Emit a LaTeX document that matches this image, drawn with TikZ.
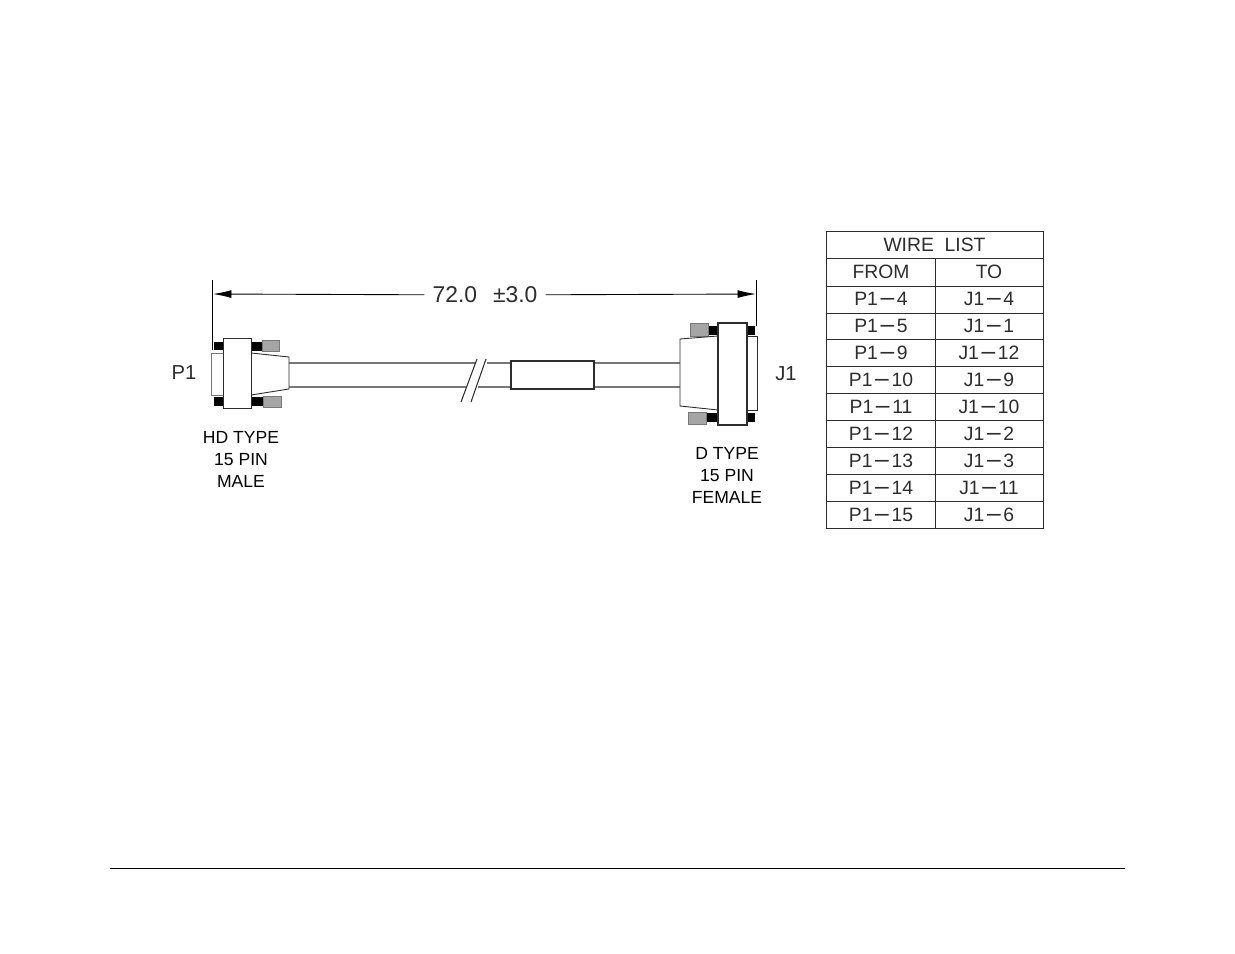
\documentclass[tikz,border=0pt]{standalone}
\usepackage{fontspec}
\setmainfont{Liberation Sans}
\usetikzlibrary{arrows.meta,positioning}
\definecolor{cableGray}{RGB}{120,120,120}
\definecolor{thumbGray}{RGB}{165,165,165}
\definecolor{inkDark}{RGB}{45,45,45}
\newcommand{\wiredash}{\kern1.5pt{\fontsize{14}{14}\selectfont –}\kern1.5pt}
\tikzset{
  partline/.style={draw=inkDark,line width=0.5pt,fill=white},
  cableline/.style={draw=cableGray,line width=0.7pt},
  screwblack/.style={fill=black,draw=none},
  screwthumb/.style={fill=thumbGray,draw=cableGray,line width=0.4pt},
  dimline/.style={draw=black,line width=0.5pt},
  dimarrow/.style={dimline,-{Latex[length=10.5pt,width=4.5pt]}},
  calllabel/.style={font=\fontsize{10}{12.5}\selectfont,align=center,text=black},
  partlabel/.style={font=\fontsize{11.5}{14}\selectfont,text=inkDark},
  tablecell/.style={font=\fontsize{11}{13}\selectfont,text=inkDark,inner sep=0pt},
  tablegrid/.style={draw=inkDark,line width=0.55pt}
}
\begin{document}
\begin{tikzpicture}[x=0.02cm,y=-0.02cm]
  \useasboundingbox (0,0) rectangle (1235,954);

  % Dimension line
  \node[font=\fontsize{13}{14}\selectfont,text=inkDark,fill=white,inner xsep=4.5pt,inner ysep=1pt] (dimtext) at (485,295) {72.0\hspace{0.7em}±3.0};
  \coordinate (dimleft) at (213,294);
  \coordinate (dimright) at (756,294);
  \draw[dimarrow] (dimtext) -- (dimleft);
  \draw[dimarrow] (dimtext) -- (dimright);
  \coordinate (extleftup) at (212,280);
  \coordinate (extleftdown) at (212,350);
  \coordinate (extrightup) at (756,280);
  \coordinate (extrightdown) at (756,326);
  \draw[dimline] (extleftup) -- (extleftdown);
  \draw[dimline] (extrightup) -- (extrightdown);

  % Cable with break and sleeve
  \draw[cableline] (289,363) -- (475,363) (487,363) -- (680,363);
  \draw[cableline] (289,387) -- (466,387) (478,387) -- (680,387);
  \draw[draw=inkDark,line width=0.6pt] (477,359) -- (461,402);
  \draw[draw=inkDark,line width=0.6pt] (486,359) -- (471,402);
  \draw[partline,line width=0.8pt] (511,361) rectangle (594,389);
  \draw[draw=inkDark,line width=0.4pt] (547,361) -- (547,359.5);

  % P1 connector
  \draw[partline,draw=cableGray] (211,353) rectangle (223,395);
  \fill[screwblack] (214,342) rectangle (223,350);
  \fill[screwblack] (214,397) rectangle (223,406);
  \fill[screwblack] (251,342) rectangle (262,351);
  \fill[screwblack] (251,397) rectangle (263,406);
  \draw[screwthumb] (262,340) rectangle (279,351);
  \draw[screwthumb] (263,396) rectangle (281,407);
  \draw[partline] (251,353) -- (289,357) -- (289,389) -- (251,395) -- cycle;
  \draw[partline] (223,338) rectangle (251,408);

  % J1 connector
  \draw[partline] (747,336) rectangle (757,410);
  \fill[screwblack] (708,326) rectangle (718,335);
  \fill[screwblack] (747,326) rectangle (755,335);
  \fill[screwblack] (706,413) rectangle (718,422);
  \fill[screwblack] (747,413) rectangle (755,422);
  \draw[screwthumb] (690,323) rectangle (708,336);
  \draw[screwthumb] (688,412) rectangle (706,424);
  \draw[partline] (680,339) -- (718,336) -- (718,410) -- (680,406) -- cycle;
  \draw[partline,line width=0.7pt] (718,323) rectangle (747,425);

  % Connector labels
  \node[partlabel] (p1label) at (184,373) {P1};
  \node[partlabel] (j1label) at (786,374) {J1};
  \node[calllabel] (p1type) at (241,459) {HD TYPE\\15 PIN\\MALE};
  \node[calllabel] (j1type) at (727,475) {D TYPE\\15 PIN\\FEMALE};

  % Wire list
  \draw[tablegrid] (826,231) rectangle (1043,528);
  \foreach \liney in {258,286,313,339,366,393,420,447,474,501}
    \draw[tablegrid] (826,\liney) -- (1043,\liney);
  \draw[tablegrid] (935,258) -- (935,528);
  \node[tablecell] (wirelist) at (934.5,245) {WIRE\ \ LIST};
  \node[tablecell] (fromhead) at (881,272) {FROM};
  \node[tablecell] (tohead) at (989,272) {TO};
  \foreach \cy/\fromtxt/\totxt in {299/4/4,326/5/1,353/9/12,380/10/9,407/11/10,434/12/2,461/13/3,488/14/11,515/15/6}{
    \node[tablecell] (from\fromtxt) at (881,\cy) {P1\wiredash\fromtxt};
    \node[tablecell] (to\fromtxt) at (989,\cy) {J1\wiredash\totxt};
  }

  % Page rule
  \coordinate (ruleleft) at (110,868);
  \coordinate (ruleright) at (1125,868);
  \draw[draw=black,line width=0.45pt] (ruleleft) -- (ruleright);
\end{tikzpicture}
\end{document}
